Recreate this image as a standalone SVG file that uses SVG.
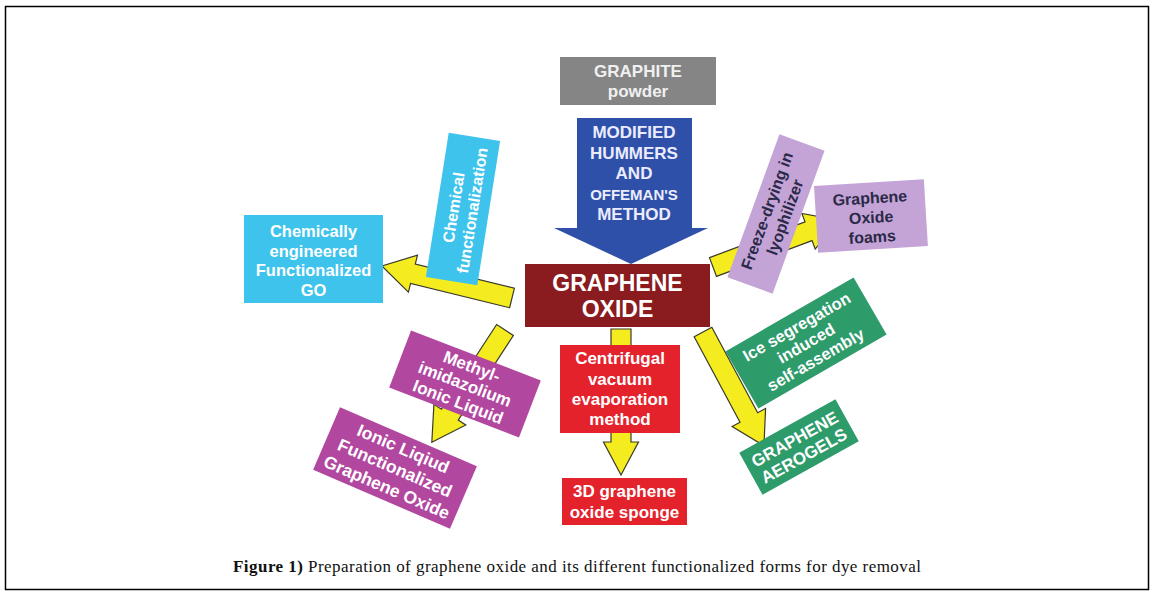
<svg xmlns="http://www.w3.org/2000/svg" width="1154" height="594" viewBox="0 0 1154 594">
<style>
.t{font-family:"Liberation Sans",Arial,sans-serif;font-weight:bold;text-anchor:middle}
.w{fill:#ffffff}
.d{fill:#2a2a48}
.ya{fill:#F5EC1F;stroke:#3a3a2a;stroke-width:1.2;stroke-linejoin:miter}
</style>
<rect x="5.5" y="6.5" width="1143" height="583" fill="#ffffff" stroke="#000000" stroke-width="1.5"/>

<g id="connectors">
  <!-- to chemically engineered -->
  <path class="ya" transform="translate(512,298) rotate(193.8)" d="M0,-10 L102,-10 L102,-19 L134,0 L102,19 L102,10 L0,10 Z"/>
  <!-- to foams -->
  <path class="ya" transform="translate(713,267) rotate(-20.5)" d="M0,-10 L102,-10 L102,-19 L134,0 L102,19 L102,10 L0,10 Z"/>
  <!-- to centrifugal / sponge -->
  <path class="ya" transform="translate(621,329) rotate(90)" d="M0,-10 L113,-10 L113,-17.5 L146,0 L113,17.5 L113,10 L0,10 Z"/>
  <!-- to aerogels -->
  <path class="ya" transform="translate(703,332) rotate(61.8)" d="M0,-10 L97,-10 L97,-19 L129,0 L97,19 L97,10 L0,10 Z"/>
  <!-- to ionic liquid -->
  <path class="ya" transform="translate(505,330) rotate(123.1)" d="M0,-10 L101,-10 L101,-19 L134,0 L101,19 L101,10 L0,10 Z"/>
</g>

<g id="graphite">
  <rect x="560" y="57" width="156" height="48" fill="#858585"/>
  <text class="t" x="638" y="77" font-size="17" fill="#f0f0f0">GRAPHITE</text>
  <text class="t" x="638" y="97" font-size="17" fill="#f0f0f0">powder</text>
</g>

<g id="graphene-oxide">
  <rect x="525" y="264" width="185" height="63" fill="#8A1B1F"/>
  <text class="t w" x="617.5" y="291" font-size="23">GRAPHENE</text>
  <text class="t w" x="617.5" y="317" font-size="23">OXIDE</text>
</g>

<g id="hummers">
  <path d="M577,118 L692,118 L692,228 L708,228 L631,264 L554,228 L577,228 Z" fill="#2F50A9"/>
  <text class="t" x="634" y="138" font-size="17" fill="#ececff">MODIFIED</text>
  <text class="t" x="634" y="158.5" font-size="17" fill="#ececff">HUMMERS</text>
  <text class="t" x="634" y="179" font-size="17" fill="#ececff">AND</text>
  <text class="t" x="634" y="200" font-size="15" fill="#ececff">OFFEMAN'S</text>
  <text class="t" x="634" y="220" font-size="17" fill="#ececff">METHOD</text>
</g>

<g id="chem-engineered">
  <rect x="244" y="215" width="139" height="88" fill="#3EC3EC"/>
  <text class="t w" x="313.5" y="237" font-size="16.5">Chemically</text>
  <text class="t w" x="313.5" y="256.5" font-size="16.5">engineered</text>
  <text class="t w" x="313.5" y="276" font-size="16.5">Functionalized</text>
  <text class="t w" x="313.5" y="296" font-size="16.5">GO</text>
</g>

<g id="chem-functionalization" transform="translate(463,209) rotate(-81)">
  <rect x="-73" y="-26" width="146" height="52" fill="#3EC3EC"/>
  <text class="t w" x="0" y="-4" font-size="16">Chemical</text>
  <text class="t w" x="0" y="15" font-size="16">functionalization</text>
</g>

<g id="freeze-drying" transform="translate(776,214) rotate(-70)">
  <rect x="-76" y="-24" width="152" height="48" fill="#C4A3D6"/>
  <text class="t d" x="0" y="-4" font-size="16">Freeze-drying in</text>
  <text class="t d" x="0" y="15" font-size="16">lyophilizer</text>
</g>

<g id="go-foams" transform="translate(871,216.5) rotate(-3.5)">
  <rect x="-55" y="-34" width="110" height="67" fill="#C4A3D6"/>
  <text class="t d" x="0" y="-13" font-size="16">Graphene</text>
  <text class="t d" x="0" y="6.5" font-size="16">Oxide</text>
  <text class="t d" x="0" y="26" font-size="16">foams</text>
</g>

<g id="ice-segregation" transform="translate(806,343) rotate(-30)">
  <rect x="-74" y="-33" width="148" height="66" fill="#2E9B6B"/>
  <text class="t w" x="0" y="-13" font-size="16.5">Ice segregation</text>
  <text class="t w" x="0" y="6" font-size="16.5">induced</text>
  <text class="t w" x="0" y="25" font-size="16.5">self-assembly</text>
</g>

<g id="aerogels" transform="translate(799,447) rotate(-29)">
  <rect x="-55" y="-24" width="110" height="48" fill="#2E9B6B"/>
  <text class="t w" x="0" y="-3" font-size="17">GRAPHENE</text>
  <text class="t w" x="0" y="16" font-size="17">AEROGELS</text>
</g>

<g id="centrifugal">
  <rect x="560" y="345" width="120" height="88" fill="#E4222C"/>
  <text class="t w" x="620" y="364" font-size="17">Centrifugal</text>
  <text class="t w" x="620" y="384.5" font-size="17">vacuum</text>
  <text class="t w" x="620" y="405" font-size="17">evaporation</text>
  <text class="t w" x="620" y="425" font-size="17">method</text>
</g>

<g id="sponge">
  <rect x="562" y="478" width="125" height="47" fill="#E4222C"/>
  <text class="t w" x="624.5" y="497" font-size="17">3D graphene</text>
  <text class="t w" x="624.5" y="518" font-size="17">oxide sponge</text>
</g>

<g id="methyl-imidazolium" transform="translate(465,384) rotate(21)">
  <rect x="-69.5" y="-30.5" width="139" height="61" fill="#B2479F"/>
  <text class="t w" x="0" y="-13" font-size="17">Methyl-</text>
  <text class="t w" x="0" y="6" font-size="17">imidazolium</text>
  <text class="t w" x="0" y="25" font-size="17">Ionic Liquid</text>
</g>

<g id="ionic-liquid-go" transform="translate(395,468) rotate(23.3)">
  <rect x="-74.5" y="-34" width="149" height="68" fill="#B2479F"/>
  <text class="t w" x="0" y="-15" font-size="17.5">Ionic Liqiud</text>
  <text class="t w" x="0" y="6" font-size="17.5">Functionalized</text>
  <text class="t w" x="0" y="27" font-size="17.5">Graphene Oxide</text>
</g>

<text x="233" y="572" font-family="'Liberation Serif','Times New Roman',serif" font-size="17" fill="#111111" textLength="688" lengthAdjust="spacing"><tspan font-weight="bold">Figure 1)</tspan> Preparation of graphene oxide and its different functionalized forms for dye removal</text>
</svg>
